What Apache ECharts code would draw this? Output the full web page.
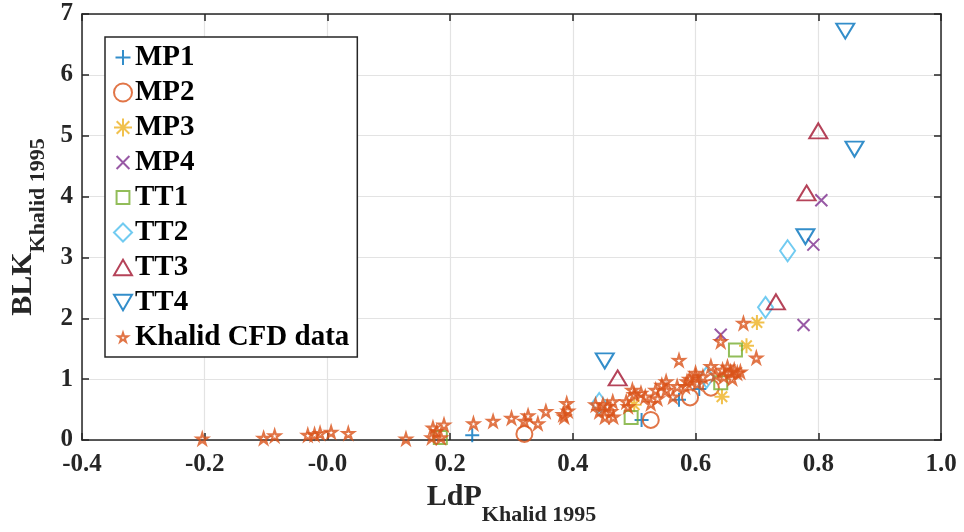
<!DOCTYPE html>
<html><head><meta charset="utf-8">
<script src="https://cdn.jsdelivr.net/npm/echarts@6/dist/echarts.min.js"></script>
<style>html,body{margin:0;padding:0;background:#fff}#chart{width:964px;height:532px}</style>
</head><body><div id="chart"></div>
<script>
// Axis tick labels
const xTickLabels = ['-0.4', '-0.2', '-0.0', '0.2', '0.4', '0.6', '0.8', '1.0'];
const yTickLabels = ['0', '1', '2', '3', '4', '5', '6', '7'];

// Measured points [LdP, BLK]
const mp1 = [[0.236, 0.08], [0.512, 0.33], [0.573, 0.66], [0.606, 0.84]];
const mp2 = [[0.321, 0.10], [0.527, 0.33], [0.591, 0.70], [0.625, 0.86]];
const mp3 = [[0.500, 0.58], [0.643, 0.71], [0.683, 1.55], [0.700, 1.93]];
const mp4 = [[0.641, 1.73], [0.776, 1.89], [0.792, 3.21], [0.805, 3.94]];
const tt1 = [[0.184, 0.04], [0.495, 0.37], [0.641, 0.94], [0.665, 1.48]];
const tt2 = [[0.443, 0.60], [0.618, 1.03], [0.714, 2.18], [0.750, 3.11]];
const tt3 = [[0.473, 1.02], [0.731, 2.27], [0.781, 4.06], [0.800, 5.08]];
const tt4 = [[0.452, 1.30], [0.779, 3.34], [0.844, 6.72], [0.859, 4.78]];

// CFD results
const cfd = [
  [-0.204, 0.02], [-0.104, 0.03], [-0.086, 0.07], [-0.032, 0.08], [-0.021, 0.09],
  [-0.012, 0.11], [0.006, 0.13], [0.034, 0.11], [0.128, 0.02],
  [0.170, 0.04], [0.185, 0.04], [0.178, 0.14], [0.172, 0.20], [0.190, 0.25],
  [0.238, 0.27], [0.270, 0.31], [0.300, 0.36], [0.327, 0.40], [0.321, 0.31],
  [0.343, 0.27], [0.356, 0.47], [0.386, 0.38], [0.390, 0.60], [0.392, 0.48], [0.384, 0.42],
  [0.437, 0.58], [0.449, 0.58], [0.465, 0.63], [0.462, 0.47], [0.443, 0.47],
  [0.452, 0.38], [0.466, 0.38], [0.456, 0.55],
  [0.487, 0.63], [0.490, 0.55], [0.497, 0.82], [0.511, 0.77], [0.527, 0.60],
  [0.535, 0.82], [0.538, 0.68], [0.552, 0.96], [0.552, 0.82], [0.563, 0.71],
  [0.570, 0.88], [0.573, 1.31], [0.583, 0.88], [0.586, 0.96],
  [0.600, 1.04], [0.603, 0.93], [0.600, 1.10], [0.612, 1.04], [0.625, 1.21],
  [0.633, 1.07], [0.644, 1.15], [0.652, 1.20], [0.657, 1.12], [0.663, 1.15],
  [0.668, 1.10], [0.673, 1.12], [0.660, 1.01], [0.646, 1.04], [0.641, 1.62],
  [0.678, 1.92], [0.699, 1.35], [0.500, 0.75], [0.518, 0.71], [0.545, 0.90], [0.590, 1.00]
];

const SERIF = '"Liberation Serif", "Times New Roman", serif';
const AXIS_COLOR = '#262626';
const GRID_COLOR = '#e3e3e3';

const STAR = 'L12.23,6.93 L19.51,6.91 L13.61,11.17 L15.88,18.09 L10,13.8 L4.12,18.09 L6.39,11.17 L0.49,6.91 L7.77,6.93 Z';
const SYM = {
  plus: 'path://M5,0 L5,10 M0,5 L10,5',
  cross: 'path://M0,0 L10,10 M10,0 L0,10',
  aster: 'path://M5,0 L5,10 M0,5 L10,5 M1.5,1.5 L8.5,8.5 M8.5,1.5 L1.5,8.5',
  triUp: 'path://M5,0 L10,8.66 L0,8.66 Z',
  triDown: 'path://M0,0 L10,0 L5,8.66 Z',
  star: 'path://M10,0 ' + STAR,
  // same star with empty margins so the legend icon stays small
  starSmall: 'path://M-8,-8 M28,27 M10,0 ' + STAR
};

function hollow(name, data, symbol, size, color, bw) {
  return {
    name: name,
    type: 'scatter',
    data: data,
    symbol: symbol,
    symbolSize: size,
    itemStyle: { color: 'rgba(255,255,255,0)', borderColor: color, borderWidth: bw || 2 },
    emphasis: { disabled: true }
  };
}

const series = [
  hollow('MP1', mp1, SYM.plus, 14, '#0072BD'),
  hollow('MP2', mp2, 'circle', 16, '#D95319'),
  hollow('MP3', mp3, SYM.aster, 15, '#EDB120'),
  hollow('MP4', mp4, SYM.cross, 12, '#7E2F8E'),
  hollow('TT1', tt1, 'rect', 13, '#77AC30'),
  hollow('TT2', tt2, 'diamond', [15, 21], '#4DBEEE'),
  hollow('TT3', tt3, SYM.triUp, [18, 15], '#A2142F'),
  hollow('TT4', tt4, SYM.triDown, [18, 15], '#0072BD'),
  hollow('Khalid CFD data', cfd, SYM.star, 11, '#D95319', 2.2)
];

const legendIcons = {
  'MP1': 'path://M-1,-1 M11,11 M5,0 L5,10 M0,5 L10,5',
  'MP4': 'path://M-2,-2 M12,12 M0,0 L10,10 M10,0 L0,10',
  'TT1': 'path://M-2,-2 M12,12 M0,0 L10,0 L10,10 L0,10 Z',
  'Khalid CFD data': SYM.starSmall
};

const tickLabelStyle = { fontFamily: SERIF, fontWeight: 'bold', fontSize: 25, color: '#262626' };
function nameRich(drop) {
  return {
    a: { fontFamily: SERIF, fontWeight: 'bold', fontSize: 30, color: '#262626', lineHeight: 30, verticalAlign: 'top' },
    b: { fontFamily: SERIF, fontWeight: 'bold', fontSize: 22, color: '#262626', lineHeight: 22, padding: [drop, 0, 0, 0], verticalAlign: 'top' }
  };
}

const chart = echarts.init(document.getElementById('chart'), null, { renderer: 'canvas' });
chart.setOption({
  animation: false,
  backgroundColor: '#ffffff',
  grid: { left: 79, right: 23, top: 14, bottom: 92, containLabel: false },
  legend: {
    orient: 'vertical',
    left: 105,
    top: 37,
    padding: [6, 8, 5, 8],
    itemWidth: 18,
    itemHeight: 18,
    itemGap: 6,
    backgroundColor: '#ffffff',
    borderColor: AXIS_COLOR,
    borderWidth: 1.5,
    borderRadius: 0,
    textStyle: { fontFamily: SERIF, fontWeight: 'bold', fontSize: 29, lineHeight: 28, color: '#000000', padding: [0, 0, 0, -2] },
    data: series.map(s => legendIcons[s.name] ? { name: s.name, icon: legendIcons[s.name] } : s.name)
  },
  xAxis: [{
    type: 'value', min: -0.4, max: 1.0, interval: 0.2,
    axisLine: { onZero: false, lineStyle: { color: AXIS_COLOR, width: 1.5 } },
    axisTick: { inside: true, length: 7, lineStyle: { color: AXIS_COLOR, width: 1.5 } },
    splitLine: { show: true, lineStyle: { color: GRID_COLOR, width: 1.2 } },
    axisLabel: Object.assign({ margin: 12, formatter: (v, i) => xTickLabels[i] }, tickLabelStyle),
    name: '{a|LdP}{b|Khalid 1995}',
    nameLocation: 'middle',
    nameGap: 27,
    nameTextStyle: { rich: nameRich(22) }
  }, {
    type: 'value', position: 'top', min: -0.4, max: 1.0, interval: 0.2,
    axisLine: { show: true, onZero: false, lineStyle: { color: AXIS_COLOR, width: 1.5 } },
    axisTick: { inside: true, length: 7, lineStyle: { color: AXIS_COLOR, width: 1.5 } },
    axisLabel: { show: false }, splitLine: { show: false }
  }],
  yAxis: [{
    type: 'value', min: 0, max: 7, interval: 1,
    axisLine: { show: true, onZero: false, lineStyle: { color: AXIS_COLOR, width: 1.5 } },
    axisTick: { show: true, inside: true, length: 7, lineStyle: { color: AXIS_COLOR, width: 1.5 } },
    splitLine: { show: true, lineStyle: { color: GRID_COLOR, width: 1.2 } },
    axisLabel: Object.assign({ margin: 9, formatter: (v, i) => yTickLabels[i] }, tickLabelStyle),
    name: '{a|BLK}{b|Khalid 1995}',
    nameLocation: 'middle',
    nameRotate: 90,
    nameGap: 44,
    nameTextStyle: { rich: nameRich(19) }
  }, {
    type: 'value', position: 'right', min: 0, max: 7, interval: 1,
    axisLine: { show: true, onZero: false, lineStyle: { color: AXIS_COLOR, width: 1.5 } },
    axisTick: { show: true, inside: true, length: 7, lineStyle: { color: AXIS_COLOR, width: 1.5 } },
    axisLabel: { show: false }, splitLine: { show: false }
  }],
  series: series
});
</script>
</body></html>
